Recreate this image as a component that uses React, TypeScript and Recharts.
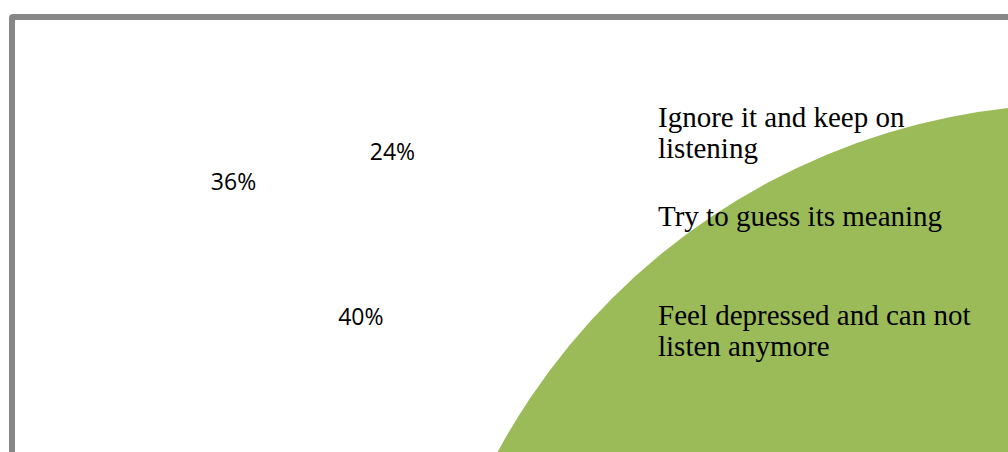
import { PieChart, Pie, Cell } from "recharts";

const categories = [
  "Ignore it and keep on listening",
  "Try to guess its meaning",
  "Feel depressed and can not listen anymore",
];
const shares = [24, 40, 36];
const sliceColors = ["#FFFFFF", "#FFFFFF", "#FFFFFF"];
const markerColor = "#9BBB59";

const data = categories.map((name, i) => ({ name, value: shares[i] }));

const RADIAN = Math.PI / 180;

// break a legend entry into lines of at most maxChars characters
function wrap(text: string, maxChars: number) {
  const lines: string[] = [];
  let cur = "";
  for (const w of text.split(" ")) {
    const next = cur ? cur + " " + w : w;
    if (next.length > maxChars && cur) {
      lines.push(cur);
      cur = w;
    } else {
      cur = next;
    }
  }
  if (cur) lines.push(cur);
  return lines;
}

function renderLabel(props: any) {
  const { cx, cy, midAngle, value } = props;
  const r = 100;
  const x = cx + r * Math.cos(-midAngle * RADIAN);
  const y = cy + r * Math.sin(-midAngle * RADIAN);
  return (
    <text
      x={x}
      y={y}
      textAnchor="middle"
      dominantBaseline="central"
      fontFamily="'Open Sans', sans-serif"
      fontSize={23}
      fill="#000"
    >
      {`${value}%`}
    </text>
  );
}

export default function App() {
  return (
    <div
      style={{
        position: "absolute",
        left: 0,
        top: 0,
        width: 1008,
        height: 452,
        overflow: "hidden",
        background: "#fff",
      }}
    >
      <div
        style={{
          position: "absolute",
          left: 9,
          top: 14,
          width: 1200,
          height: 700,
          border: "6px solid #878787",
          borderRadius: 4,
        }}
      />
      <div style={{ position: "absolute", left: 0, top: 0 }}>
        <PieChart width={1008} height={452} margin={{ top: 0, right: 0, bottom: 0, left: 0 }}>
          {/* oversized legend marker */}
          <circle cx={1081} cy={767} r={663} fill={markerColor} />
          <Pie
            data={data}
            dataKey="value"
            nameKey="name"
            cx={324}
            cy={223.5}
            outerRadius={140}
            startAngle={90}
            endAngle={-270}
            stroke="none"
            label={renderLabel}
            labelLine={false}
            isAnimationActive={false}
          >
            {data.map((d, i) => (
              <Cell key={d.name} fill={sliceColors[i]} />
            ))}
          </Pie>
          {categories.map((name, i) => (
            <text
              key={name}
              x={658}
              y={127 + i * 99}
              fontFamily="'Liberation Serif', 'Times New Roman', serif"
              fontSize={29}
              fill="#000"
            >
              {wrap(name, 26).map((line, j) => (
                <tspan key={j} x={658} dy={j === 0 ? 0 : 31}>
                  {line}
                </tspan>
              ))}
            </text>
          ))}
        </PieChart>
      </div>
    </div>
  );
}
